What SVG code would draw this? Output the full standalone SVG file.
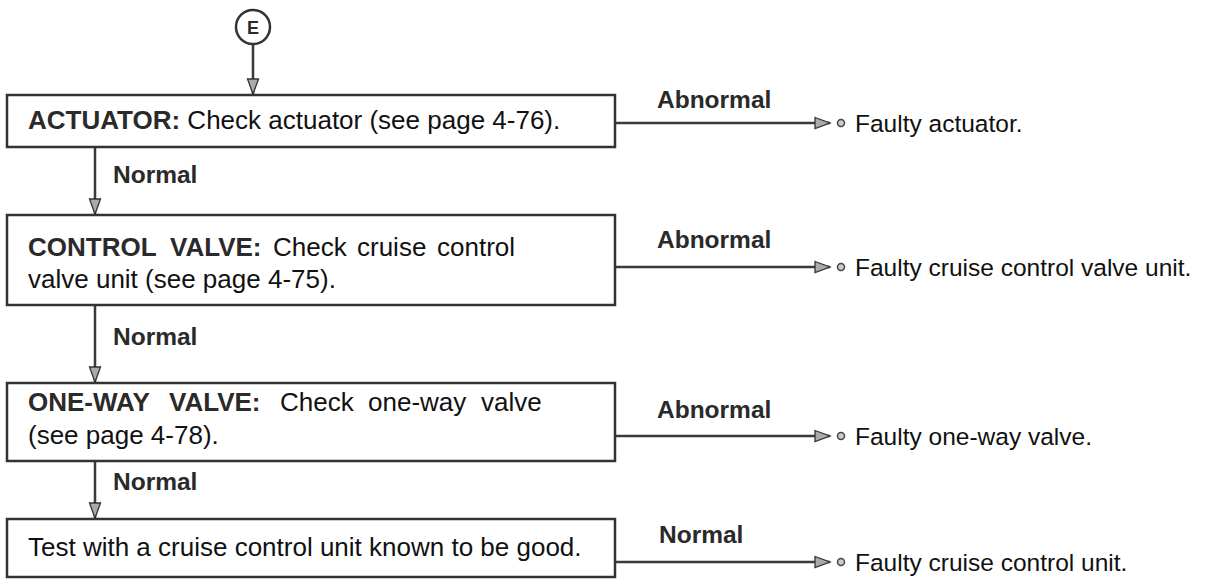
<svg xmlns="http://www.w3.org/2000/svg" width="1209" height="580" viewBox="0 0 1209 580">
<style>
.box{fill:#fff;stroke:#333;stroke-width:2.5}
.con{fill:none;stroke:#3a3a3a;stroke-width:2.5}
.t{font-family:"Liberation Sans",Arial,sans-serif;font-size:26px;fill:#111}
.b{font-weight:bold;fill:#2a2a2a}
.lbl{font-family:"Liberation Sans",Arial,sans-serif;font-size:24.5px;font-weight:bold;fill:#2a2a2a}
.r{font-family:"Liberation Sans",Arial,sans-serif;font-size:24.5px;fill:#111}
.dot{fill:#ccc;stroke:#444;stroke-width:1.5}
</style>
<defs>
<marker id="ah" markerUnits="userSpaceOnUse" markerWidth="18" markerHeight="14" refX="16" refY="7" orient="auto">
<path d="M1,1.5 L16,7 L1,12.5 Z" fill="#aaa" stroke="#333" stroke-width="1.3"/>
</marker>
</defs>

<g id="connectors">
<line class="con" x1="253" y1="44" x2="253" y2="94" marker-end="url(#ah)"/>
<line class="con" x1="95" y1="147" x2="95" y2="214" marker-end="url(#ah)"/>
<line class="con" x1="95" y1="305" x2="95" y2="382" marker-end="url(#ah)"/>
<line class="con" x1="95" y1="461" x2="95" y2="518" marker-end="url(#ah)"/>
<line class="con" x1="615" y1="123" x2="830" y2="123" marker-end="url(#ah)"/>
<line class="con" x1="615" y1="267" x2="830" y2="267" marker-end="url(#ah)"/>
<line class="con" x1="615" y1="436" x2="830" y2="436" marker-end="url(#ah)"/>
<line class="con" x1="615" y1="562" x2="830" y2="562" marker-end="url(#ah)"/>
<text class="lbl" x="113" y="183">Normal</text>
<text class="lbl" x="113" y="345">Normal</text>
<text class="lbl" x="113" y="490">Normal</text>
<text class="lbl" x="657" y="108">Abnormal</text>
<text class="lbl" x="657" y="248">Abnormal</text>
<text class="lbl" x="657" y="418">Abnormal</text>
<text class="lbl" x="659" y="543">Normal</text>
</g>

<g id="start">
<circle cx="253" cy="27" r="17" fill="#fff" stroke="#333" stroke-width="2.5"/>
<text x="253" y="33.5" text-anchor="middle" font-family="Liberation Sans, Arial, sans-serif" font-size="18" font-weight="bold" fill="#2a2a2a">E</text>
</g>

<g id="actuator">
<rect class="box" x="7" y="95" width="608" height="52"/>
<text class="t" x="28" y="129"><tspan class="b">ACTUATOR:</tspan> Check actuator (see page 4-76).</text>
</g>

<g id="control-valve">
<rect class="box" x="7" y="215" width="608" height="90"/>
<text class="t" y="256"><tspan class="b" x="28">CONTROL</tspan><tspan class="b" x="170">VALVE:</tspan><tspan x="273">Check</tspan><tspan x="357">cruise</tspan><tspan x="437">control</tspan></text>
<text class="t" x="28" y="288">valve unit (see page 4-75).</text>
</g>

<g id="one-way-valve">
<rect class="box" x="7" y="383" width="608" height="78"/>
<text class="t" y="411"><tspan class="b" x="28">ONE-WAY</tspan><tspan class="b" x="169">VALVE:</tspan><tspan x="280">Check</tspan><tspan x="368">one-way</tspan><tspan x="481">valve</tspan></text>
<text class="t" x="28" y="444">(see page 4-78).</text>
</g>

<g id="test-unit">
<rect class="box" x="7" y="519" width="608" height="58"/>
<text class="t" x="28" y="556">Test with a cruise control unit known to be good.</text>
</g>

<g id="results">
<circle class="dot" cx="841" cy="123" r="3.5"/>
<text class="r" x="855" y="132">Faulty actuator.</text>
<circle class="dot" cx="841" cy="267" r="3.5"/>
<text class="r" x="855" y="276">Faulty cruise control valve unit.</text>
<circle class="dot" cx="841" cy="436" r="3.5"/>
<text class="r" x="855" y="445">Faulty one-way valve.</text>
<circle class="dot" cx="841" cy="562" r="3.5"/>
<text class="r" x="855" y="571">Faulty cruise control unit.</text>
</g>
</svg>
